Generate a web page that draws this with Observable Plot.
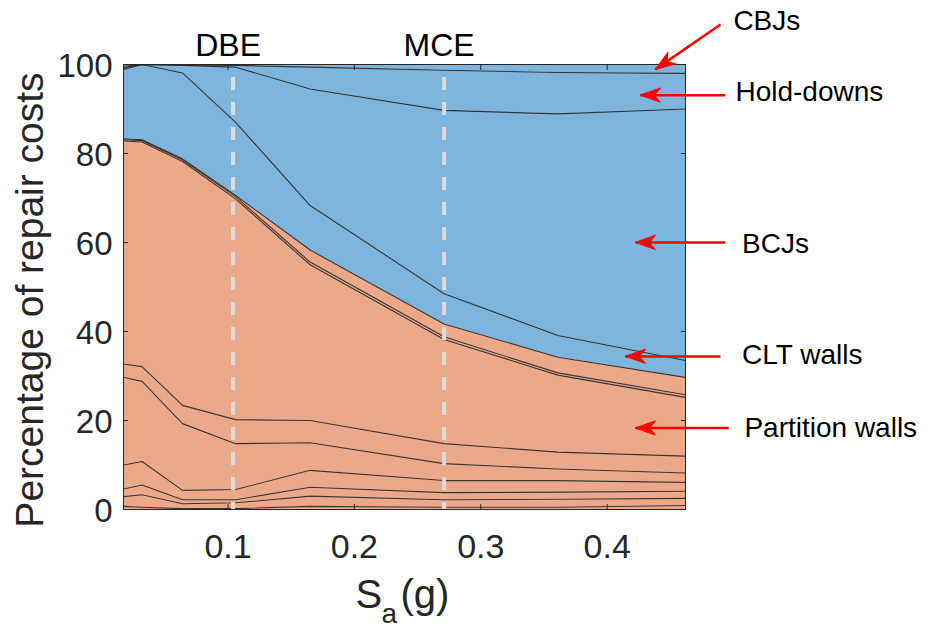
<!DOCTYPE html>
<html><head><meta charset="utf-8">
<script src="https://cdn.jsdelivr.net/npm/d3@7"></script>
<script src="https://cdn.jsdelivr.net/npm/@observablehq/plot@0.6"></script>
<style>body{margin:0;background:#fff;} svg{display:block;}</style>
</head><body><div id="chart"></div>
<script>
// Spectral acceleration levels (g)
const sa = [0.0173, 0.032, 0.064, 0.106, 0.165, 0.271, 0.361, 0.462];
const dbeSa = 0.104, mceSa = 0.271;
const xTicks = [0.1, 0.2, 0.3, 0.4];
const yTicks = [0, 20, 40, 60, 80, 100];

// Layers from bottom to top (percentage of repair costs)
const layerNames  = ["Comp 1", "Comp 2", "Comp 3", "Comp 4", "Comp 5", "Comp 6", "Partition walls", "Comp 8", "Comp 9", "CLT walls", "BCJs", "Hold-downs", "CBJs"];
const layerGroups = ["nonstructural","nonstructural","nonstructural","nonstructural","nonstructural","nonstructural","nonstructural","nonstructural","nonstructural","structural","structural","structural","structural"];
const comp1          = [0.7, 0.5, 0.2, 0.2, 0.7, 0.5, 0.5, 0.9];
const comp2          = [2.2, 2.8, 1.1, 1.3, 2.3, 1.7, 1.8, 1.6];
const comp3          = [1.7, 2.2, 0.9, 0.7, 2.0, 1.6, 1.6, 1.6];
const comp4          = [5.4, 5.3, 2.1, 2.3, 3.8, 2.7, 2.6, 2.0];
const comp5          = [19.7, 18.0, 15.0, 10.3, 6.2, 3.8, 2.6, 2.1];
const comp6          = [3.0, 3.3, 4.1, 5.4, 5.0, 4.5, 3.8, 3.8];
const partitionWalls = [50.1, 50.5, 54.8, 49.6, 35.0, 23.4, 17.3, 13.2];
const comp8          = [0.3, 0.3, 0.4, 0.5, 0.6, 0.6, 0.5, 0.6];
const comp9          = [0.2, 0.2, 0.2, 0.3, 2.7, 2.9, 3.5, 3.9];
const cltWalls       = [15.6, 16.9, 19.3, 16.4, 10.0, 6.8, 4.9, 3.8];
const bcjs           = [0.4, 0.0, 1.7, 12.4, 26.2, 41.2, 49.8, 56.5];
const holdDowns      = [0.3, 0.0, 0.1, 0.4, 4.9, 9.0, 9.3, 8.0];
const cbjs           = [0.4, 0.0, 0.1, 0.2, 0.6, 1.3, 1.8, 2.0];
const layerValues = [comp1, comp2, comp3, comp4, comp5, comp6, partitionWalls, comp8, comp9, cltWalls, bcjs, holdDowns, cbjs];

// Annotations (label, text anchor, arrow start/end in data units)
const annotLabels = ["CBJs", "Hold-downs", "BCJs", "CLT walls", "Partition walls"];
const annotTextX  = [0.4999, 0.5015, 0.5068, 0.5068, 0.5086];
const annotTextY  = [107.8, 91.8, 57.7, 32.6, 16.4];
const arrowX1 = [0.4897, 0.4936, 0.4936, 0.4897, 0.4962];
const arrowY1 = [109.0, 93.1, 60.0, 34.4, 18.3];
const arrowX2 = [0.4382, 0.4263, 0.4224, 0.4145, 0.4224];
const arrowY2 = [98.9, 93.1, 60.0, 34.4, 18.3];

const W = 931, H = 629, ML = 123, MR = 246, MT = 64, MB = 120;
const xDomain = [0.0173, 0.462], yDomain = [0, 100];
const kx = (W - ML - MR) / (xDomain[1] - xDomain[0]);
const ky = (H - MT - MB) / (yDomain[1] - yDomain[0]);

const rows = [];
layerValues.forEach((vals, i) => vals.forEach((v, j) => rows.push({sa: sa[j], pct: v, layer: layerNames[i], group: layerGroups[i]})));
const annots = annotLabels.map((l, i) => {
  const dxp = (arrowX2[i] - arrowX1[i]) * kx, dyp = -(arrowY2[i] - arrowY1[i]) * ky;
  return {label: l, tx: annotTextX[i], ty: annotTextY[i], x1: arrowX1[i], y1: arrowY1[i], x2: arrowX2[i], y2: arrowY2[i],
          angle: Math.atan2(dxp, -dyp) * 180 / Math.PI};
});

// filled "vback" arrow head: tip at (0,-l)
const headShape = {
  draw(context, l) {
    context.moveTo(0, -l);
    context.lineTo(-7, 1);
    context.lineTo(0, -5);
    context.lineTo(7, 1);
    context.closePath();
  }
};

const axisColor = "#262626";
const chart = Plot.plot({
  width: W, height: H,
  marginLeft: ML, marginRight: MR, marginTop: MT, marginBottom: MB,
  style: {fontFamily: "'Liberation Sans', Arial, sans-serif", background: "#fff", overflow: "visible"},
  x: {domain: xDomain, axis: null},
  y: {domain: yDomain, axis: null},
  color: {domain: ["nonstructural", "structural"], range: ["#eca98a", "#7db5de"]},
  marks: [
    Plot.areaY(rows, {x: "sa", y: "pct", z: "layer", fill: "group"}),
    Plot.lineY(rows, Plot.stackY2({x: "sa", y: "pct", z: "layer", stroke: "#1e1e1e", strokeOpacity: 0.85, strokeWidth: 1.1})),
    Plot.ruleX([dbeSa, mceSa], {stroke: "#dcdcdc", strokeWidth: 4, strokeDasharray: "13,12", strokeDashoffset: 12}),
    Plot.frame({stroke: axisColor, strokeWidth: 1}),
    Plot.axisX({ticks: xTicks, anchor: "bottom", tickSize: -5, text: null, label: null, stroke: axisColor}),
    Plot.axisX({ticks: xTicks, anchor: "top", tickSize: -5, text: null, label: null, stroke: axisColor}),
    Plot.axisY({ticks: yTicks, anchor: "left", tickSize: -5, text: null, label: null, stroke: axisColor}),
    Plot.axisY({ticks: yTicks, anchor: "right", tickSize: -5, text: null, label: null, stroke: axisColor}),
    Plot.axisX({ticks: xTicks, anchor: "bottom", tickSize: 0, tickPadding: 24, fontSize: 34, tickFormat: d => d.toFixed(1), label: null, fill: axisColor}),
    Plot.axisY({ticks: yTicks, anchor: "left", tickSize: 0, tickPadding: 11, fontSize: 33, dy: 2, label: null, fill: axisColor}),
    Plot.text(["Percentage of repair costs"], {text: d => d, frameAnchor: "left", rotate: -90, dx: -81, dy: 13, fontSize: 39, lineAnchor: "bottom", textAnchor: "middle", fill: axisColor}),
    Plot.text(["S"], {text: d => d, frameAnchor: "bottom", textAnchor: "start", lineAnchor: "bottom", dx: -49, dy: 98, fontSize: 40, fill: axisColor}),
    Plot.text(["a"], {text: d => d, frameAnchor: "bottom", textAnchor: "start", lineAnchor: "bottom", dx: -23, dy: 113, fontSize: 28, fill: axisColor}),
    Plot.text(["(g)"], {text: d => d, frameAnchor: "bottom", textAnchor: "start", lineAnchor: "bottom", dx: -4, dy: 98, fontSize: 40, fill: axisColor}),
    Plot.text([{x: dbeSa, t: "DBE"}, {x: mceSa, t: "MCE"}], {x: "x", text: "t", frameAnchor: "top", lineAnchor: "bottom", dy: -9, dx: -5, fontSize: 32, fill: "#000"}),
    Plot.link(annots, {x1: "x1", y1: "y1", x2: "x2", y2: "y2", stroke: "#ff0000", strokeWidth: 2.5}),
    Plot.vector(annots, {x: "x2", y: "y2", rotate: "angle", length: 19, anchor: "end", shape: headShape, fill: "#ff0000", stroke: "#ff0000", strokeWidth: 1}),
    Plot.text(annots, {x: "tx", y: "ty", text: "label", textAnchor: "start", lineAnchor: "bottom", fontSize: 28, fill: "#000"})
  ]
});
document.getElementById("chart").appendChild(chart);
</script>
</body></html>
